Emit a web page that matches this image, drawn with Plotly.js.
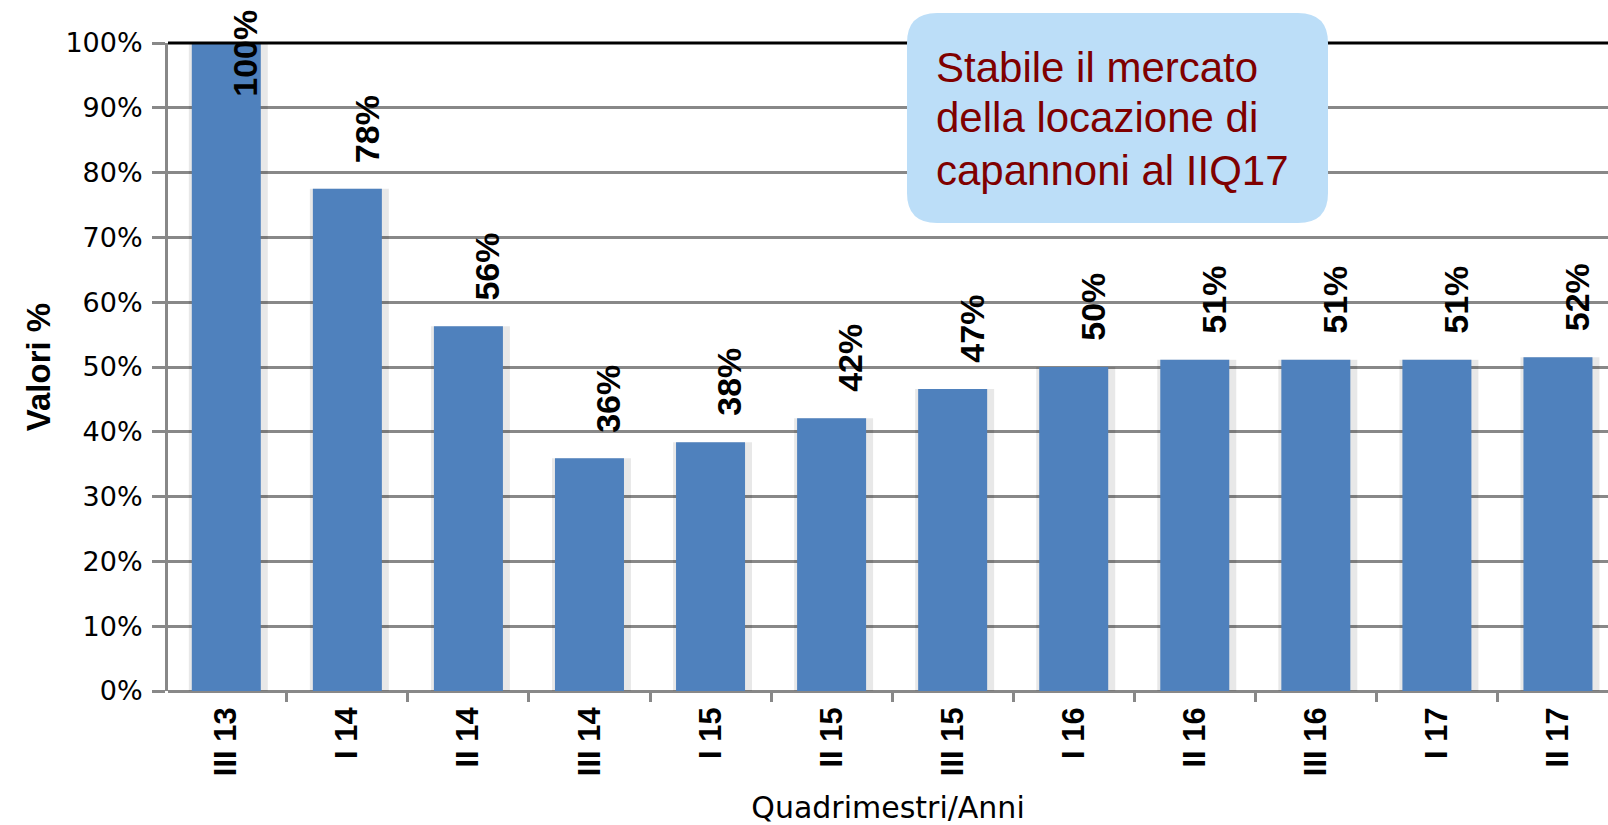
<!DOCTYPE html>
<html>
<head>
<meta charset="utf-8">
<script src="https://cdn.plot.ly/plotly-3.0.1.min.js"></script>
<style>
html,body{margin:0;padding:0;background:#ffffff;}
#chart{width:1608px;height:825px;}
</style>
</head>
<body>
<div id="chart"></div>
<script>
// ---- data ----
const categories = ['III 13','I 14','II 14','III 14','I 15','II 15','III 15','I 16','II 16','III 16','I 17','II 17'];
const values = [1.00, 0.775, 0.563, 0.359, 0.384, 0.421, 0.466, 0.500, 0.511, 0.511, 0.511, 0.515];
const valueLabels = ['100%','78%','56%','36%','38%','42%','47%','50%','51%','51%','51%','52%'];
const yTickValues = [0, 0.1, 0.2, 0.3, 0.4, 0.5, 0.6, 0.7, 0.8, 0.9, 1.0];
const yTickLabels = ['0%','10%','20%','30%','40%','50%','60%','70%','80%','90%','100%'];
const noteLines = ['Stabile il mercato', 'della locazione di', 'capannoni al IIQ17'];
const xTitle = 'Quadrimestri/Anni';
const yTitle = 'Valori %';

// ---- layout geometry / style ----
const W = 1608, H = 825, ML = 168, MR = 0, MT = 43, MB = 134;
const plotW = W - ML - MR, plotH = H - MT - MB;
const catPx = 121.06;
const firstCenterPx = 226.3;
const xMin = -(firstCenterPx - ML) / catPx;
const xRange = [xMin, xMin + plotW / catPx];
const barFrac = 69 / catPx;
const sansBold = "'Liberation Sans', Arial, sans-serif";
const grid = '#888888';
const barColor = '#4F81BD';

const bars = {
  type: 'bar', x: categories, y: values,
  width: barFrac,
  marker: {color: barColor, line: {width: 0}},
  hoverinfo: 'skip', showlegend: false
};
const shadowExtra = 10 / catPx;
const shadow = {
  type: 'bar', x: categories, y: values,
  width: barFrac + shadowExtra,
  offset: -(barFrac + shadowExtra) / 2 + 2 / catPx,
  marker: {color: 'rgba(0,0,0,0.09)', line: {width: 0}},
  hoverinfo: 'skip', showlegend: false
};

// data labels (rotated), kept inside the figure like the original
const lblSize = 34;
const gap = 24, minTop = 12;
const annotations = values.map((v, i) => {
  const txt = valueLabels[i];
  const estLen = (txt.length - 1) * 0.556 * lblSize + 0.889 * lblSize;
  const barTopPx = MT + (1 - v) * plotH;
  const labelTop = barTopPx - gap - estLen;
  const yshift = gap - Math.max(0, minTop - labelTop);
  return {
    xref: 'x', yref: 'y', x: categories[i], y: v,
    text: txt, showarrow: false, textangle: -90,
    xanchor: 'center', yanchor: 'bottom', xshift: 19, yshift: yshift,
    font: {family: sansBold, size: lblSize, color: '#000000', weight: 700}
  };
});

// callout text lines
const noteX = (934 - ML) / plotW;
const noteYpx = [68, 118, 170];
noteLines.forEach((t, i) => {
  annotations.push({
    xref: 'paper', yref: 'paper', x: noteX, y: (MT + plotH - noteYpx[i]) / plotH,
    xanchor: 'left', yanchor: 'middle', showarrow: false, text: t,
    font: {family: "'Liberation Sans', Arial, sans-serif", size: 42, color: '#7F0000'}
  });
});

// rounded callout box (paper coords)
function px2x(p){ return (p - ML) / plotW; }
function px2y(p){ return (MT + plotH - p) / plotH; }
const bx0 = px2x(907), bx1 = px2x(1328), byT = px2y(13), byB = px2y(223);
const rx = 30 / plotW, ry = 30 / plotH;
const boxPath = `M ${bx0+rx},${byT} L ${bx1-rx},${byT} Q ${bx1},${byT} ${bx1},${byT-ry} ` +
  `L ${bx1},${byB+ry} Q ${bx1},${byB} ${bx1-rx},${byB} L ${bx0+rx},${byB} ` +
  `Q ${bx0},${byB} ${bx0},${byB+ry} L ${bx0},${byT-ry} Q ${bx0},${byT} ${bx0+rx},${byT} Z`;

const layout = {
  width: W, height: H,
  margin: {l: ML, r: MR, t: MT, b: MB, pad: 0},
  paper_bgcolor: '#ffffff', plot_bgcolor: '#ffffff',
  barmode: 'overlay', showlegend: false,
  xaxis: {
    type: 'category', range: xRange, fixedrange: true,
    tickson: 'boundaries', ticks: 'outside', ticklen: 10, tickwidth: 3, tickcolor: grid,
    showline: false, showgrid: false, zeroline: false,
    tickangle: -90, ticklabelstandoff: 9,
    tickfont: {family: sansBold, size: 31, color: '#000000', weight: 700},
    title: {text: xTitle, standoff: 28, font: {family: "'DejaVu Sans', sans-serif", size: 30, color: '#000000'}}
  },
  yaxis: {
    range: [0, 1], fixedrange: true,
    tickvals: yTickValues, ticktext: yTickLabels,
    ticks: 'outside', ticklen: 13, tickwidth: 3, tickcolor: grid,
    showline: true, linecolor: grid, linewidth: 3,
    showgrid: true, gridcolor: grid, gridwidth: 3,
    zeroline: true, zerolinecolor: grid, zerolinewidth: 3,
    ticklabelstandoff: 4,
    tickfont: {family: "'DejaVu Sans', sans-serif", size: 27, color: '#000000'},
    title: {text: yTitle, standoff: 5, font: {family: sansBold, size: 33, color: '#000000', weight: 700}}
  },
  shapes: [
    {type: 'line', xref: 'paper', yref: 'paper', x0: 0, x1: 1, y0: 1, y1: 1,
     line: {color: '#000000', width: 3}, layer: 'above'},
    {type: 'path', xref: 'paper', yref: 'paper', path: boxPath,
     fillcolor: '#BCDEF8', line: {width: 0}, layer: 'above'}
  ],
  annotations: annotations
};

Plotly.newPlot('chart', [shadow, bars], layout, {staticPlot: true, displayModeBar: false});
</script>
</body>
</html>
